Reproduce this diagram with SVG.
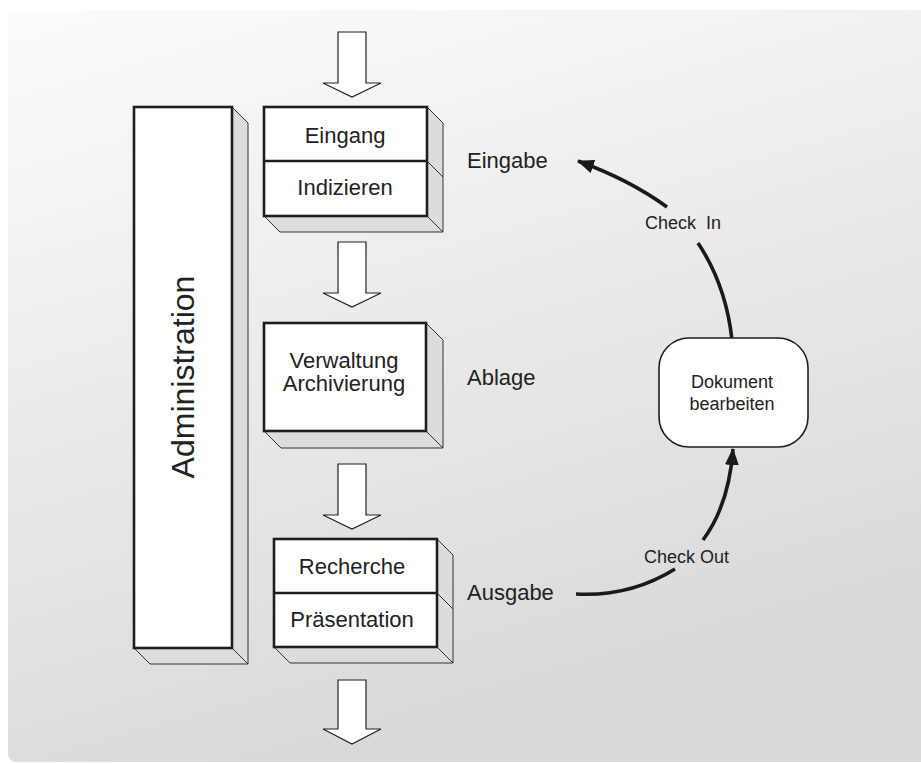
<svg xmlns="http://www.w3.org/2000/svg" width="921" height="764" viewBox="0 0 921 764">
<defs>
<linearGradient id="bg" x1="0" y1="0" x2="0.35" y2="1">
<stop offset="0" stop-color="#fcfcfc"/>
<stop offset="1" stop-color="#d9d9d9"/>
</linearGradient>
<marker id="ah" markerUnits="userSpaceOnUse" markerWidth="18" markerHeight="14" refX="16" refY="7" orient="auto">
<path d="M0,0 L17,7 L0,14 z" fill="#1a1a1a"/>
</marker>
</defs>
<style>
.front{fill:#fff;stroke:#1e1e1e;stroke-width:2.6}
.side{fill:#dcdcdc;stroke:#333;stroke-width:1}
.div{stroke:#1e1e1e;stroke-width:2.6;fill:none}
.sdiv{stroke:#333;stroke-width:1;fill:none}
.blk{fill:#fff;stroke:#222;stroke-width:1.2}
.t{font-family:"Liberation Sans",Arial,sans-serif;font-size:22px;fill:#222}
.s{font-family:"Liberation Sans",Arial,sans-serif;font-size:18px;fill:#222}
.c{fill:none;stroke:#1a1a1a;stroke-width:3.6;stroke-linecap:butt}
</style>
<rect width="921" height="764" fill="#fff"/>
<rect x="8" y="10" width="930" height="752" rx="8" fill="url(#bg)"/>

<g id="connectors">
<path class="blk" d="M338,32 H366 V83 H381 L352,97 L323,83 H338 Z"/>
<path class="blk" d="M338,242 H366 V293 H381 L352,307 L323,293 H338 Z"/>
<path class="blk" d="M338,464 H366 V515 H381 L352,529 L323,515 H338 Z"/>
<path class="blk" d="M338,680 H366 V729 H381 L352,744 L323,729 H338 Z"/>
<path class="c" d="M576,594 Q630,597 675,569"/>
<path class="c" d="M703,540 Q729,505 733,449" marker-end="url(#ah)"/>
<path class="c" d="M732,340 Q726,285 698,243"/>
<path class="c" d="M667,207 Q630,180 578,161" marker-end="url(#ah)"/>
</g>

<g id="administration">
<polygon class="side" points="232,107 248,123 248,664 232,648"/>
<polygon class="side" points="134,648 232,648 248,664 150,664"/>
<rect class="front" x="134" y="107" width="98" height="541"/>
<text class="t" style="font-size:32px" text-anchor="middle" transform="translate(194,377) rotate(-90)">Administration</text>
</g>

<g id="eingang-indizieren">
<polygon class="side" points="427,107 443,123 443,232 427,216"/>
<polygon class="side" points="264,216 427,216 443,232 280,232"/>
<line class="sdiv" x1="427" y1="161" x2="443" y2="177"/>
<rect class="front" x="264" y="107" width="163" height="109"/>
<line class="div" x1="264" y1="161" x2="427" y2="161"/>
<text class="t" x="345" y="143" text-anchor="middle">Eingang</text>
<text class="t" x="345" y="195" text-anchor="middle">Indizieren</text>
</g>

<g id="verwaltung">
<polygon class="side" points="426,323 443,340 443,448 426,431"/>
<polygon class="side" points="264,431 426,431 443,448 281,448"/>
<rect class="front" x="264" y="323" width="162" height="108"/>
<text class="t" x="344" y="368" text-anchor="middle">Verwaltung</text>
<text class="t" x="344" y="391" text-anchor="middle">Archivierung</text>
</g>

<g id="recherche-praesentation">
<polygon class="side" points="437,539 453,555 453,663 437,647"/>
<polygon class="side" points="274,647 437,647 453,663 290,663"/>
<line class="sdiv" x1="437" y1="593" x2="453" y2="609"/>
<rect class="front" x="274" y="539" width="163" height="108"/>
<line class="div" x1="274" y1="593" x2="437" y2="593"/>
<text class="t" x="352" y="574" text-anchor="middle">Recherche</text>
<text class="t" x="352" y="627" text-anchor="middle">Präsentation</text>
</g>

<g id="dokument">
<rect x="659" y="338" width="149" height="109" rx="30" fill="#fff" stroke="#1e1e1e" stroke-width="1.6"/>
<text class="s" x="732" y="388" text-anchor="middle">Dokument</text>
<text class="s" x="732" y="410" text-anchor="middle">bearbeiten</text>
</g>

<g id="labels">
<text class="t" x="467" y="168">Eingabe</text>
<text class="t" x="467" y="385">Ablage</text>
<text class="t" x="467" y="600">Ausgabe</text>
<text class="s" x="645" y="229" xml:space="preserve">Check  In</text>
<text class="s" x="644" y="563">Check Out</text>
</g>
</svg>
